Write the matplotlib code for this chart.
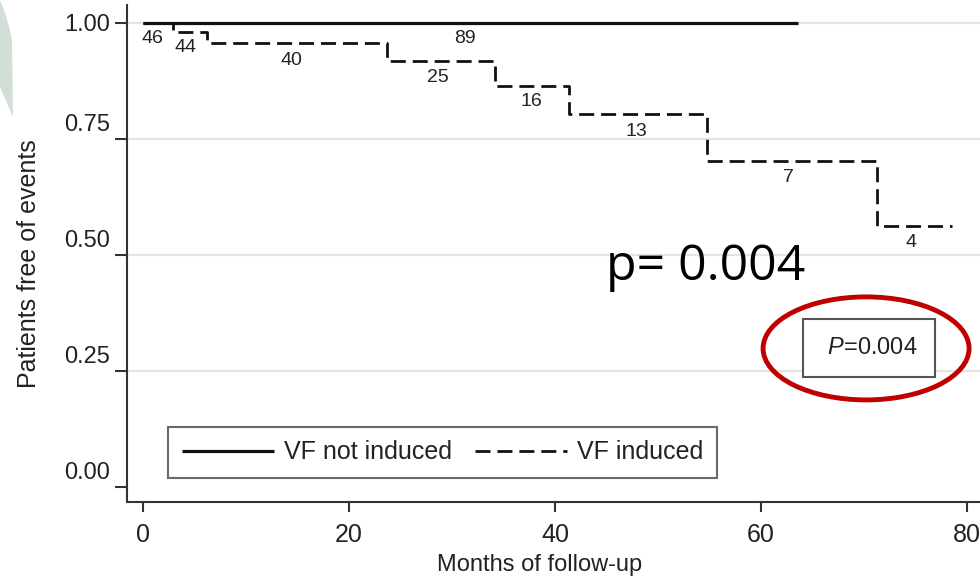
import matplotlib
matplotlib.use('Agg')
import matplotlib.pyplot as plt
import matplotlib.transforms as mtransforms
from matplotlib.patches import Ellipse, Polygon


# Kaplan-Meier steps
months_not_induced = [0, 63.6]
surv_not_induced = [1.0, 1.0]

months_induced = [0, 2.9, 6.2, 23.7, 34.2, 41.4, 54.8, 71.3, 78.5]
surv_induced = [1.0, 0.979, 0.956, 0.918, 0.864, 0.803, 0.702, 0.5625, 0.5625]

# numbers at risk printed along the curves
risk_labels = ['46', '44', '40', '89', '25', '16', '13', '7', '4']
risk_x = [0.9, 4.1, 14.4, 31.3, 28.6, 37.7, 47.9, 62.7, 74.6]
risk_y = [0.965, 0.946, 0.919, 0.965, 0.881, 0.829, 0.766, 0.667, 0.527]

x_ticks = [0, 20, 40, 60, 80]
y_ticks = [0.0, 0.25, 0.5, 0.75, 1.0]
y_ticklabels = ['0.00', '0.25', '0.50', '0.75', '1.00']

p_value = '0.004'

plt.rcParams['font.family'] = ['Liberation Sans', 'DejaVu Sans']
plt.rcParams['mathtext.fontset'] = 'custom'
plt.rcParams['mathtext.it'] = 'Liberation Sans:italic'
plt.rcParams['mathtext.rm'] = 'Liberation Sans'

TXT = '#222222'
AX = '#333333'

fig = plt.figure(figsize=(9.8, 5.79), dpi=100)
ax = fig.add_axes([127 / 980, 77 / 579, 853 / 980, 497 / 579])

# pale green decoration on the left edge of the slide
deco = [(0, 0), (5, 13), (10, 30), (12, 40), (13, 117), (0, 87)]
fig.patches.append(Polygon([(x / 980, 1 - y / 579) for x, y in deco], closed=True,
                           transform=fig.transFigure, facecolor='#d3ded6',
                           edgecolor='none', zorder=0))

ax.plot(months_not_induced, surv_not_induced, color='#111111', lw=2.3,
        solid_capstyle='butt', label='VF not induced', zorder=3)
ax.plot(months_induced, surv_induced, color='#111111', lw=2.0, drawstyle='steps-post',
        linestyle=(0, (5.4, 2.5)), label='VF induced', zorder=3)

for lab, x, y in zip(risk_labels, risk_x, risk_y):
    ax.text(x, y, lab, ha='center', va='center', fontsize=14, color=TXT)

ax.set_xlim(-1.55, 81.26)
ax.set_ylim(-0.033, 1.038)
ax.set_xticks(x_ticks)
ax.set_yticks(y_ticks)
ax.set_yticklabels(y_ticklabels)
ax.tick_params(axis='x', length=7, width=1.5, color=AX, labelsize=18,
               labelcolor=TXT, pad=8)
ax.tick_params(axis='y', length=9, width=1.5, color=AX, labelsize=17,
               labelcolor=TXT, pad=3)

# the y labels sit a little above their ticks in the original
shift = mtransforms.ScaledTranslation(0, 16 / 100, fig.dpi_scale_trans)
for lab in ax.get_yticklabels()[:-1]:
    lab.set_transform(lab.get_transform() + shift)

ax.yaxis.grid(True, color='#e4e4e4', lw=1.6)
ax.get_ygridlines()[0].set_visible(False)
ax.set_axisbelow(True)

for side in ['top', 'right']:
    ax.spines[side].set_visible(False)
for side in ['left', 'bottom']:
    ax.spines[side].set_color(AX)
    ax.spines[side].set_linewidth(1.5)

ax.set_ylabel('Patients free of events', fontsize=18, color=TXT)
ax.yaxis.set_label_coords(-0.101, 0.479)
ax.set_xlabel('Months of follow-up', fontsize=17, color=TXT)
ax.xaxis.set_label_coords(0.4836, -0.105)

leg = ax.legend(loc='lower left', bbox_to_anchor=(0.048, 0.048), ncol=2,
                fontsize=18, frameon=True, fancybox=False, borderaxespad=0,
                handlelength=3.7, handletextpad=0.4, columnspacing=0.9,
                borderpad=0.55)
leg.get_frame().set_edgecolor('#444444')
leg.get_frame().set_linewidth(1.5)
for t in leg.get_texts():
    t.set_color(TXT)

# boxed P value from the original figure
ax.text(70.5, 0.2985, r' $P$=' + p_value + ' ', ha='center', va='center',
        fontsize=17, color=TXT,
        bbox=dict(boxstyle='square,pad=0.75', facecolor='white',
                  edgecolor='#555555', linewidth=1.5))

# slide overlay: big p value and red ellipse
ax.text(45, 0.4455, 'p= ' + p_value, ha='left', va='baseline', fontsize=36,
        family='Open Sans', color='black', zorder=5)
ax.add_patch(Ellipse((70.2, 0.298), 20.0, 0.222, fill=False, edgecolor='#c00000',
                     linewidth=3.5, clip_on=False, zorder=6))

fig.savefig('out.png', dpi=100)
